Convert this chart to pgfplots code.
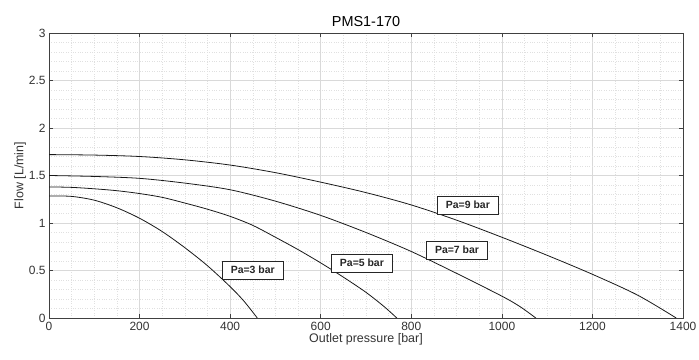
\documentclass[border=0pt]{standalone}
\usepackage{pgfplots}
\pgfplotsset{compat=1.18}
\usepackage{fontspec}
\setmainfont{Liberation Sans}
\begin{document}
\begin{tikzpicture}
\begin{axis}[
  at={(0,0)}, anchor=south west,
  scale only axis,
  width=634bp, height=285bp,
  xmin=0, xmax=1400, ymin=0, ymax=3,
  xtick={0,200,...,1400}, ytick={0,0.5,...,3},
  minor x tick num=3, minor y tick num=4,
  grid=both,
  major grid style={draw=black!15, line width=0.5pt},
  minor grid style={draw=black!12, dotted, line width=0.4pt},
  axis line style={draw=black!75, line width=0.6pt},
  tick style={draw=black!75, line width=0.5pt},
  major tick length=4bp, minor tick length=0pt,
  tick align=inside,
  /pgf/number format/assume math mode=true,
  /pgf/number format/1000 sep={},
  tick label style={font=\fontsize{12}{14}\selectfont, text=black!80},
  xticklabel style={yshift=-1bp},
  title={PMS1-170},
  title style={font=\fontsize{14.5}{16}\selectfont, yshift=-3bp},
  xlabel={Outlet pressure [bar]},
  ylabel={Flow [L/min]},
  label style={font=\fontsize{12.5}{14}\selectfont, text=black!80},
  xlabel style={yshift=4bp},
  ylabel style={yshift=-4bp},
  curve/.style={draw=black!90, line width=0.8pt, smooth, tension=0.5, mark=none},
  clip=true,
]
\addplot[curve] coordinates {(0,1.285) (50,1.28) (100,1.24) (150,1.16) (200,1.05) (250,0.91) (300,0.74) (350,0.55) (400,0.33) (430,0.18) (460,0)};
\addplot[curve] coordinates {(0,1.38) (50,1.375) (100,1.36) (150,1.34) (200,1.31) (250,1.27) (300,1.21) (350,1.145) (400,1.07) (450,0.975) (500,0.85) (550,0.72) (600,0.58) (650,0.43) (700,0.27) (740,0.12) (768,0)};
\addplot[curve] coordinates {(0,1.50) (100,1.49) (200,1.47) (300,1.42) (400,1.35) (500,1.23) (600,1.08) (700,0.90) (800,0.70) (900,0.47) (1000,0.23) (1040,0.12) (1075,0)};
\addplot[curve] coordinates {(0,1.72) (100,1.715) (200,1.70) (300,1.665) (400,1.61) (500,1.53) (600,1.43) (700,1.32) (800,1.19) (900,1.03) (1000,0.85) (1100,0.66) (1200,0.46) (1300,0.24) (1385,0)};
\tikzset{lbl/.style={draw=black!85, fill=white, line width=0.6pt, font=\fontsize{10.5}{11}\selectfont\bfseries, text=black!85, minimum width=61bp, minimum height=18bp, inner sep=1bp}}
\node[lbl] at (axis cs:450,0.505) {Pa=3 bar};
\node[lbl] at (axis cs:691,0.58) {Pa=5 bar};
\node[lbl] at (axis cs:901,0.715) {Pa=7 bar};
\node[lbl] at (axis cs:925,1.19) {Pa=9 bar};
\end{axis}
\pgfresetboundingbox
\path (-49bp,-42bp) rectangle (650bp,318bp);
\end{tikzpicture}
\end{document}
